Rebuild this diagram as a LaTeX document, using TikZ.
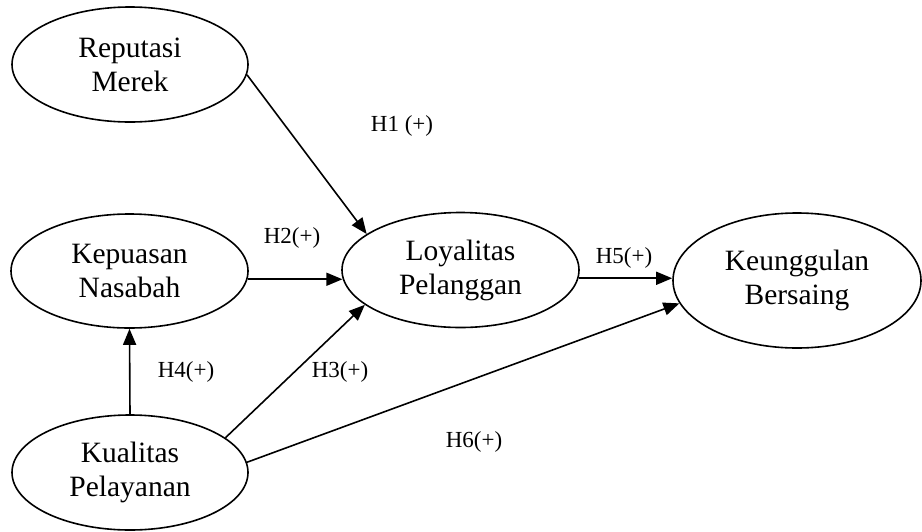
\documentclass[tikz,border=0pt]{standalone}
\usepackage{fontspec}
\setmainfont{Liberation Serif}
\usetikzlibrary{shapes.geometric,arrows.meta}
\begin{document}
\begin{tikzpicture}[x=1pt,y=-1pt,
  construct/.style={draw,ellipse,line width=1.6pt,inner sep=0pt,align=center,
    font=\fontsize{29.5}{34}\selectfont},
  link/.style={line width=1.6pt,-{Triangle[length=16pt,width=13pt]}},
  hyp/.style={font=\fontsize{23}{26}\selectfont,inner sep=0pt}]
\useasboundingbox (0,0) rectangle (922,531);
\node[construct,minimum width=236pt,minimum height=115pt] (rep) at (130,64.5) {Reputasi\\Merek};
\node[construct,minimum width=237pt,minimum height=114pt] (kep) at (129.5,271) {Kepuasan\\Nasabah};
\node[construct,minimum width=237pt,minimum height=115pt] (loy) at (460.5,270) {Loyalitas\\Pelanggan};
\node[construct,minimum width=248pt,minimum height=135pt] (keu) at (797,280.5) {Keunggulan\\Bersaing};
\node[construct,minimum width=236pt,minimum height=115pt] (kua) at (130,472.5) {Kualitas\\Pelayanan};
\draw[link] (rep.-5.1) -- (loy.159.8);
\draw[link] (kep.-4.4) -- (loy.184.9 |- kep.-4.4);
\draw[link] (loy.-4.9) -- (keu.west |- loy.-4.9);
\draw[link] (kua.north) -- (kep.south);
\draw[link] (kua.20) -- (loy.200.2);
\draw[link] (kua.5.1) -- (keu.191.1);
\node[hyp] (h1) at (402,126) {H1 (+)};
\node[hyp] (h2) at (292,238) {H2(+)};
\node[hyp] (h5) at (624,258) {H5(+)};
\node[hyp] (h4) at (186,372) {H4(+)};
\node[hyp] (h3) at (340,372) {H3(+)};
\node[hyp] (h6) at (474,442) {H6(+)};
\end{tikzpicture}
\end{document}
